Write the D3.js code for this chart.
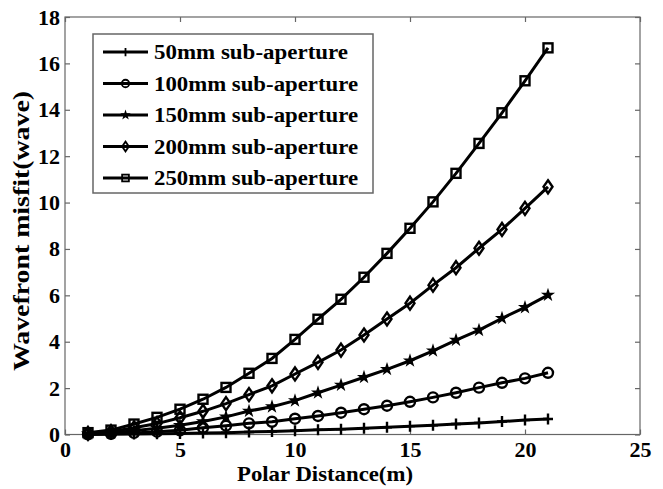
<!DOCTYPE html>
<html>
<head>
<meta charset="utf-8">
<script src="https://cdn.jsdelivr.net/npm/d3@7"></script>
<style>
  body { margin: 0; background: #fff; }
  text { font-family: "Liberation Serif", "Times New Roman", serif; font-weight: bold; }
</style>
</head>
<body>
<svg width="663" height="489"></svg>
<script>
// polar distance (m)
let distance = [1, 2, 3, 4, 5, 6, 7, 8, 9, 10, 11, 12, 13, 14, 15, 16, 17, 18, 19, 20, 21];

// wavefront misfit (wave)
let misfit50  = [0.003, 0.008, 0.02, 0.03, 0.045, 0.06, 0.08, 0.11, 0.13, 0.16, 0.20, 0.23, 0.27, 0.31, 0.36, 0.40, 0.45, 0.50, 0.56, 0.62, 0.67];
let misfit100 = [0.01, 0.03, 0.07, 0.12, 0.18, 0.29, 0.38, 0.48, 0.55, 0.68, 0.80, 0.94, 1.09, 1.24, 1.41, 1.60, 1.80, 2.02, 2.23, 2.42, 2.66];
let misfit150 = [0.03, 0.07, 0.16, 0.27, 0.40, 0.56, 0.76, 1.01, 1.20, 1.46, 1.80, 2.13, 2.47, 2.81, 3.18, 3.61, 4.07, 4.50, 5.01, 5.48, 6.01];
let misfit200 = [0.05, 0.12, 0.29, 0.47, 0.72, 1.00, 1.33, 1.72, 2.10, 2.61, 3.11, 3.64, 4.29, 4.98, 5.66, 6.44, 7.19, 8.03, 8.84, 9.75, 10.68];
let misfit250 = [0.08, 0.19, 0.45, 0.74, 1.09, 1.52, 2.03, 2.64, 3.28, 4.10, 4.97, 5.83, 6.78, 7.81, 8.89, 10.03, 11.26, 12.55, 13.87, 15.25, 16.67];

let seriesNames = ["50mm sub-aperture", "100mm sub-aperture", "150mm sub-aperture", "200mm sub-aperture", "250mm sub-aperture"];
let seriesValues = [misfit50, misfit100, misfit150, misfit200, misfit250];
let markerKinds = ["plus", "circle", "star", "diamond", "square"];

let xTicks = [0, 5, 10, 15, 20, 25];
let yTicks = [0, 2, 4, 6, 8, 10, 12, 14, 16, 18];

let svg = d3.select("svg");
let pLeft = 65, pTop = 17, pRight = 640, pBottom = 434.5;

let x = d3.scaleLinear().domain([0, 25]).range([pLeft, pRight]);
let y = d3.scaleLinear().domain([0, 18]).range([pBottom, pTop]);

let axisColor = "#666";

// box
svg.append("rect")
  .attr("x", pLeft).attr("y", pTop)
  .attr("width", pRight - pLeft).attr("height", pBottom - pTop)
  .attr("fill", "none").attr("stroke", axisColor).attr("stroke-width", 1.2);

// ticks inside, all four sides
let tickLen = 5;
let gx = svg.append("g").attr("transform", "translate(0," + pBottom + ")")
  .call(d3.axisBottom(x).tickValues(xTicks).tickSizeInner(-tickLen).tickSizeOuter(0).tickPadding(7));
let gx2 = svg.append("g").attr("transform", "translate(0," + pTop + ")")
  .call(d3.axisTop(x).tickValues(xTicks).tickSizeInner(-tickLen).tickSizeOuter(0).tickFormat(""));
let gy = svg.append("g").attr("transform", "translate(" + pLeft + ",0)")
  .call(d3.axisLeft(y).tickValues(yTicks).tickSizeInner(-tickLen).tickSizeOuter(0).tickPadding(5));
let gy2 = svg.append("g").attr("transform", "translate(" + pRight + ",0)")
  .call(d3.axisRight(y).tickValues(yTicks).tickSizeInner(-tickLen).tickSizeOuter(0).tickFormat(""));

[gx, gx2, gy, gy2].forEach(g => {
  g.select(".domain").remove();
  g.selectAll(".tick line").attr("stroke", axisColor).attr("stroke-width", 1.2);
  g.selectAll(".tick text")
    .attr("fill", "#000")
    .style("font-size", "22px")
    .style("font-family", "Liberation Serif, serif")
    .style("font-weight", "bold");
});

// axis titles
svg.append("text")
  .attr("x", 325).attr("y", 481)
  .attr("text-anchor", "middle")
  .attr("textLength", 176).attr("lengthAdjust", "spacingAndGlyphs")
  .style("font-size", "21px")
  .text("Polar Distance(m)");

svg.append("text")
  .attr("transform", "translate(29,231) rotate(-90)")
  .attr("text-anchor", "middle")
  .attr("textLength", 280).attr("lengthAdjust", "spacingAndGlyphs")
  .style("font-size", "24px")
  .text("Wavefront misfit(wave)");

// markers (MATLAB-like, no face fill)
function drawMarker(g, kind, cx, cy, sc) {
  sc = sc || 1;
  let s = g.append("g").attr("transform", "translate(" + cx + "," + cy + ") scale(" + sc + ")");
  let st = { stroke: "#000", "stroke-width": 2.4, fill: "none" };
  let p;
  if (kind === "plus") {
    p = s.append("path").attr("d", "M-5,0H5M0,-5.5V5.5");
  } else if (kind === "circle") {
    p = s.append("circle").attr("r", 5);
  } else if (kind === "star") {
    p = s.append("path").attr("d", d3.symbol(d3.symbolStar, 28)());
    st.fill = "#000"; st["stroke-width"] = 1.5;
  } else if (kind === "diamond") {
    p = s.append("path").attr("d", "M0,-6.5L4.5,0L0,6.5L-4.5,0Z");
  } else if (kind === "square") {
    p = s.append("rect").attr("x", -4.5).attr("y", -4.5).attr("width", 9).attr("height", 9);
  }
  Object.keys(st).forEach(k => p.attr(k, st[k]));
}

let line = d3.line()
  .x((d, i) => x(distance[i]))
  .y(d => y(d));

seriesValues.forEach((vals, k) => {
  let g = svg.append("g");
  g.append("path")
    .attr("d", line(vals))
    .attr("fill", "none")
    .attr("stroke", "#000")
    .attr("stroke-width", 3);
  vals.forEach((v, i) => drawMarker(g, markerKinds[k], x(distance[i]), y(v)));
});

// legend
let lg = svg.append("g");
lg.append("rect")
  .attr("x", 93).attr("y", 34).attr("width", 280).attr("height", 159)
  .attr("fill", "#fff").attr("stroke", axisColor).attr("stroke-width", 1.5);

seriesNames.forEach((name, k) => {
  let ly = 52 + k * 31.5;
  lg.append("line")
    .attr("x1", 103).attr("x2", 148).attr("y1", ly).attr("y2", ly)
    .attr("stroke", "#000").attr("stroke-width", 3);
  drawMarker(lg, markerKinds[k], 125.5, ly, 0.75);
  let t = lg.append("text")
    .attr("x", 154).attr("y", ly + 7)
    .style("font-size", "20px")
    .text(name);
  t.attr("textLength", name.startsWith("50") ? 194 : 204).attr("lengthAdjust", "spacingAndGlyphs");
});
</script>
</body>
</html>
